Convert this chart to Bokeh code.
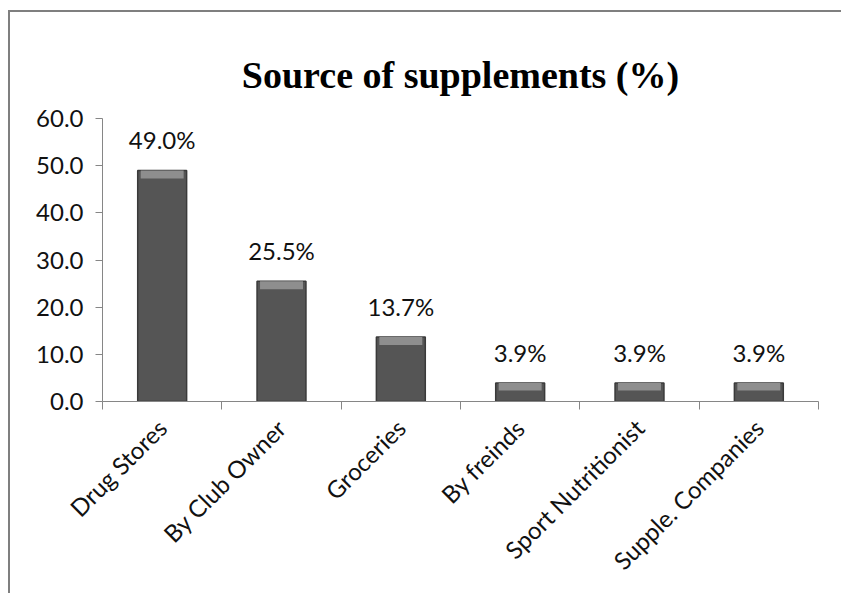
import numpy as np
from bokeh.plotting import figure
from bokeh.models import ColumnDataSource, FixedTicker, NumeralTickFormatter, Range1d, LabelSet
from bokeh.core.properties import value
from bokeh.embed import file_html
from bokeh.resources import INLINE

categories = ["Drug Stores", "By Club Owner", "Groceries", "By freinds", "Sport Nutritionist", "Supple. Companies"]
values = [49.0, 25.5, 13.7, 3.9, 3.9, 3.9]
value_labels = ["49.0%", "25.5%", "13.7%", "3.9%", "3.9%", "3.9%"]
y_ticks = [0, 10, 20, 30, 40, 50, 60]

xs = np.arange(len(categories)) + 0.5
vals = np.array(values)

src = ColumnDataSource(dict(x=xs, top=vals, hl_bottom=vals - np.minimum(1.7, vals * 0.4), lab=value_labels))

p = figure(width=833, height=583, output_backend="svg", toolbar_location=None,
           x_range=Range1d(0, len(categories)), y_range=Range1d(0, 60),
           min_border_left=92, min_border_right=25, min_border_top=106, min_border_bottom=194,
           title="Source of supplements (%)")
p.styles = {"margin-left": "8px", "margin-top": "10px",
            "border-left": "2px solid #7f7f7f", "border-top": "2px solid #7f7f7f"}

p.title.text_font = "Liberation Serif"
p.title.text_font_size = "38px"
p.title.text_font_style = "bold"
p.title.align = "center"
p.title.offset = 10
p.title.text_color = "#000000"
p.title.standoff = 46

p.outline_line_color = None
p.xgrid.grid_line_color = None
p.ygrid.grid_line_color = None

# bars
p.vbar(x="x", top="top", bottom=0, width=0.41, source=src,
       fill_color="#555555", line_color="#3a3a3a", line_width=1.5)
p.vbar(x="x", top="top", bottom="hl_bottom", width=0.36, source=src,
       fill_color="#8e8e8e", line_color=None)

labels = LabelSet(x="x", y="top", text="lab", source=src, text_align="center",
                  text_baseline="bottom", y_offset=16, text_font=value("Lato"),
                  text_font_size=value("24px"), text_color="#111111")
p.add_layout(labels)

# y axis
ya = p.yaxis[0]
ya.ticker = FixedTicker(ticks=y_ticks)
ya.formatter = NumeralTickFormatter(format="0.0")
ya.axis_line_color = "#868686"
ya.major_tick_line_color = "#868686"
ya.major_tick_out = 7
ya.major_tick_in = 0
ya.minor_tick_line_color = None
ya.major_label_text_font = "Lato"
ya.major_label_text_font_size = "24px"
ya.major_label_text_color = "#111111"
ya.major_label_standoff = 12

# x axis
xa = p.xaxis[0]
xa.ticker = FixedTicker(ticks=list(xs), minor_ticks=list(range(len(categories) + 1)))
xa.major_label_overrides = {float(x): c for x, c in zip(xs, categories)}
xa.axis_line_color = "#868686"
xa.major_tick_line_color = None
xa.minor_tick_line_color = "#868686"
xa.minor_tick_out = 8
xa.minor_tick_in = 0
xa.major_label_orientation = np.pi / 4
xa.major_label_text_font = "Lato"
xa.major_label_text_font_size = "24px"
xa.major_label_text_color = "#111111"
xa.major_label_standoff = 14

open("out.html", "w").write(file_html(p, INLINE))
